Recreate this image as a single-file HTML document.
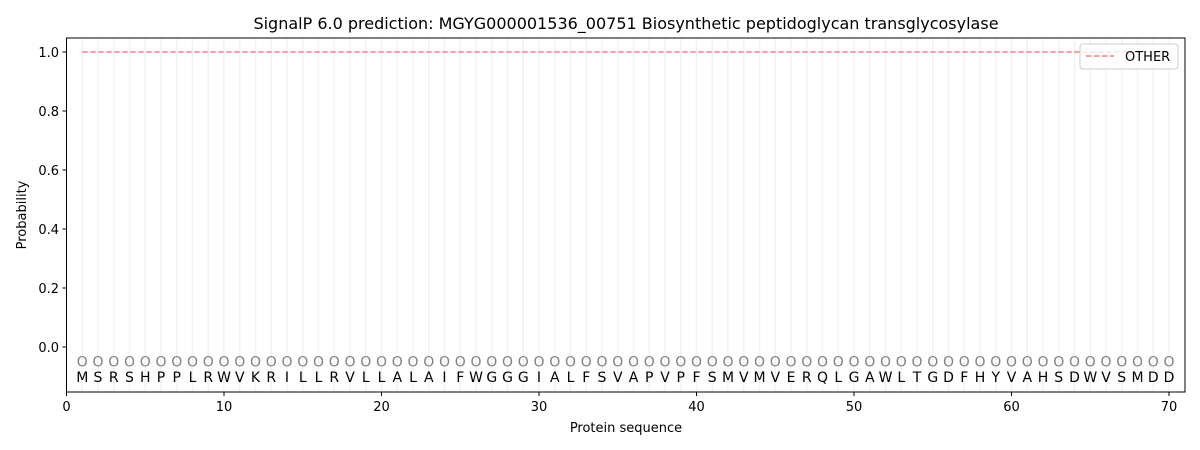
<!DOCTYPE html><html><head><style>body{margin:0;background:#fff}svg{display:block;font-family:"DejaVu Sans","Liberation Sans",sans-serif}</style></head><body>
<svg width="1200" height="450" viewBox="0 0 1200 450">
<defs><pattern id="g" patternUnits="userSpaceOnUse" x="81.5" y="0" width="15.75" height="10"><rect x="0" y="0" width="1.5" height="10" fill="#f2f2f2"/></pattern></defs>
<rect x="80" y="38" width="1092" height="354" fill="url(#g)"/>
<line x1="82.25" y1="52" x2="1169" y2="52" stroke="#f08080" stroke-width="1.5" stroke-dasharray="5.5,2.5"/>
<text fill="#808080" font-size="14" text-anchor="middle" y="366.5" x="82.25 98 113.75 129.5 145.25 161 176.75 192.5 208.25 224 239.75 255.5 271.25 287 302.75 318.5 334.25 350 365.75 381.5 397.25 413 428.75 444.5 460.25 476 491.75 507.5 523.25 539 554.75 570.5 586.25 602 617.75 633.5 649.25 665 680.75 696.5 712.25 728 743.75 759.5 775.25 791 806.75 822.5 838.25 854 869.75 885.5 901.25 917 932.75 948.5 964.25 980 995.75 1011.5 1027.25 1043 1058.75 1074.5 1090.25 1106 1121.75 1137.5 1153.25 1169">OOOOOOOOOOOOOOOOOOOOOOOOOOOOOOOOOOOOOOOOOOOOOOOOOOOOOOOOOOOOOOOOOOOOOO</text>
<text fill="#000" font-size="14" text-anchor="middle" y="382" x="82.25 98 113.75 129.5 145.25 161 176.75 192.5 208.25 224 239.75 255.5 271.25 287 302.75 318.5 334.25 350 365.75 381.5 397.25 413 428.75 444.5 460.25 476 491.75 507.5 523.25 539 554.75 570.5 586.25 602 617.75 633.5 649.25 665 680.75 696.5 712.25 728 743.75 759.5 775.25 791 806.75 822.5 838.25 854 869.75 885.5 901.25 917 932.75 948.5 964.25 980 995.75 1011.5 1027.25 1043 1058.75 1074.5 1090.25 1106 1121.75 1137.5 1153.25 1169">MSRSHPPLRWVKRILLRVLLALAIFWGGGIALFSVAPVPFSMVMVERQLGAWLTGDFHYVAHSDWVSMDD</text>
<rect x="66.5" y="38" width="1118.5" height="354" fill="none" stroke="#000" stroke-width="1"/>
<g stroke="#000"><line x1="66.5" y1="392" x2="66.5" y2="396"/><line x1="224" y1="392" x2="224" y2="396"/><line x1="381.5" y1="392" x2="381.5" y2="396"/><line x1="539" y1="392" x2="539" y2="396"/><line x1="696.5" y1="392" x2="696.5" y2="396"/><line x1="854" y1="392" x2="854" y2="396"/><line x1="1011.5" y1="392" x2="1011.5" y2="396"/><line x1="1169" y1="392" x2="1169" y2="396"/>
<line x1="62.5" y1="347" x2="66.5" y2="347"/><line x1="62.5" y1="288" x2="66.5" y2="288"/><line x1="62.5" y1="229" x2="66.5" y2="229"/><line x1="62.5" y1="170" x2="66.5" y2="170"/><line x1="62.5" y1="111" x2="66.5" y2="111"/><line x1="62.5" y1="52" x2="66.5" y2="52"/></g>
<g font-size="13" text-anchor="middle" fill="#000"><text x="66.5" y="411">0</text><text x="224" y="411">10</text><text x="381.5" y="411">20</text><text x="539" y="411">30</text><text x="696.5" y="411">40</text><text x="854" y="411">50</text><text x="1011.5" y="411">60</text><text x="1169" y="411">70</text></g>
<g font-size="13" text-anchor="end" fill="#000"><text x="59" y="352">0.0</text><text x="59" y="293">0.2</text><text x="59" y="234">0.4</text><text x="59" y="175">0.6</text><text x="59" y="116">0.8</text><text x="59" y="57">1.0</text></g>
<text x="626" y="432" font-size="13" text-anchor="middle">Protein sequence</text>
<text transform="translate(26,215) rotate(-90)" font-size="13" text-anchor="middle">Probability</text>
<text x="626" y="29" font-size="16" text-anchor="middle">SignalP 6.0 prediction: MGYG000001536_00751 Biosynthetic peptidoglycan transglycosylase</text>
<rect x="1080" y="44" width="98" height="25" rx="3" fill="#fff" fill-opacity="0.8" stroke="#ccc"/>
<line x1="1086" y1="56" x2="1114" y2="56" stroke="#f08080" stroke-width="1.5" stroke-dasharray="5.5,2.5"/>
<text x="1125" y="61" font-size="13">OTHER</text>
</svg></body></html>
